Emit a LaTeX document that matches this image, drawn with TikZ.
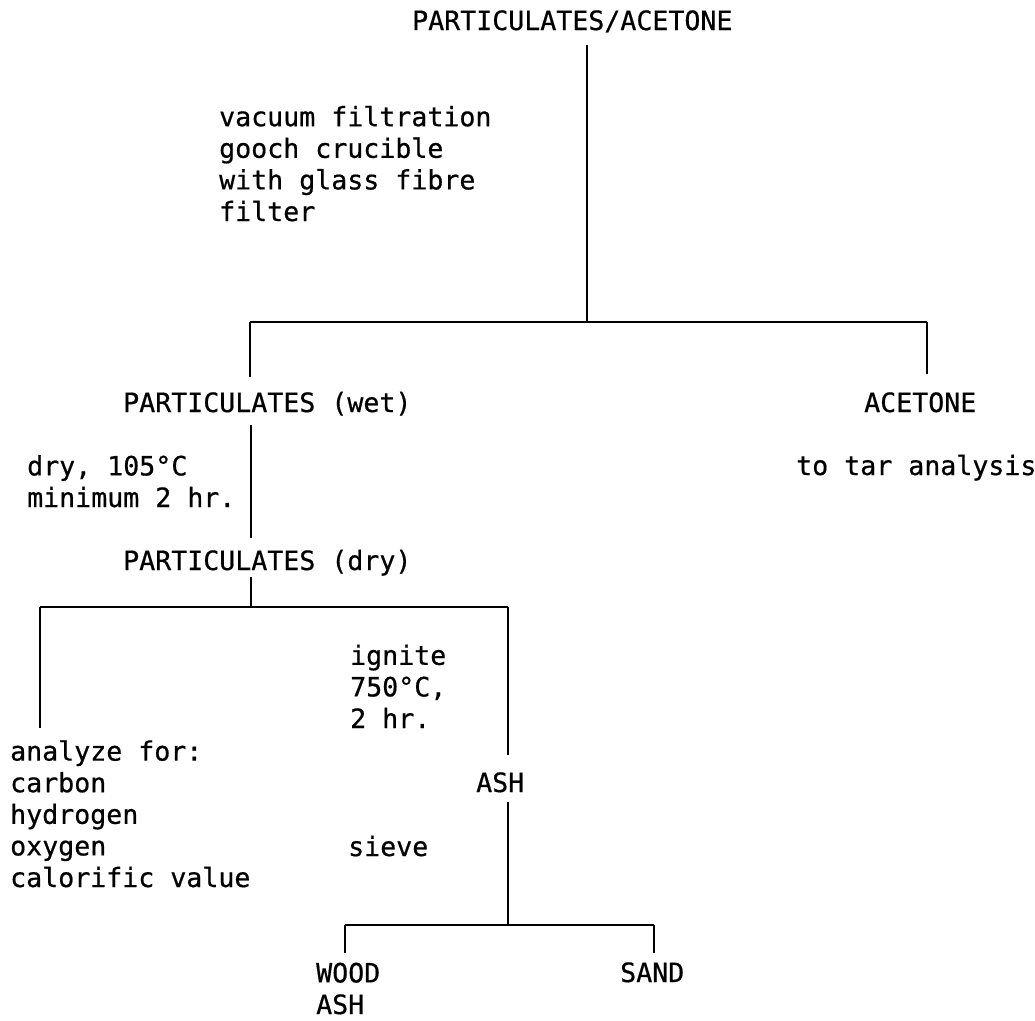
\documentclass[tikz,border=0pt]{standalone}
\usepackage{fontspec}
\setmonofont[FakeBold=0.6]{DejaVu Sans Mono}
\begin{document}
\begin{tikzpicture}[x=1pt,y=-1pt,
  lbl/.style={font=\fontsize{26.6}{31.6}\selectfont\ttfamily, inner sep=0pt, anchor=base west, align=left},
  conn/.style={line width=1.8pt},
  bar/.style={line width=2.6pt}]
\useasboundingbox[fill=white] (0,0) rectangle (1035,1020);

% texts (anchor = baseline of the last line)
\node[lbl] (pa)  at (412,30)  {PARTICULATES/ACETONE};
\node[lbl] (vf)  at (219,221) {vacuum filtration\\gooch crucible\\with glass fibre\\filter};
\node[lbl] (pw)  at (123,412) {PARTICULATES (wet)};
\node[lbl] (ac)  at (864,412) {ACETONE};
\node[lbl] (dry) at (27,507)  {dry, 105°C\\minimum 2 hr.};
\node[lbl] (tar) at (796,475) {to tar analysis};
\node[lbl] (pd)  at (123,570) {PARTICULATES (dry)};
\node[lbl] (ig)  at (350,728) {ignite\\750°C,\\2 hr.};
\node[lbl] (an)  at (10,887)  {analyze for:\\carbon\\hydrogen\\oxygen\\calorific value};
\node[lbl] (ash) at (476,792) {ASH};
\node[lbl] (sv)  at (348,856) {sieve};
\node[lbl] (wa)  at (316,1014) {WOOD\\ASH};
\node[lbl] (sd)  at (620,982) {SAND};

% connector points
\coordinate (a0) at (587,45);  \coordinate (a1) at (587,322);
\coordinate (l0) at (250,322); \coordinate (l1) at (250,377);
\coordinate (r0) at (927,322); \coordinate (r1) at (927,374);
\coordinate (b0) at (251,425); \coordinate (b1) at (251,538);
\coordinate (c0) at (251,577); \coordinate (c1) at (251,607);
\coordinate (d0) at (40,607);  \coordinate (d1) at (40,728);
\coordinate (e0) at (508,607); \coordinate (e1) at (508,755);
\coordinate (f0) at (508,802); \coordinate (f1) at (508,925);
\coordinate (g0) at (345,925); \coordinate (g1) at (345,953);
\coordinate (h0) at (654,925); \coordinate (h1) at (654,953);

% connectors
\draw[conn] (a0) -- (a1);
\draw[bar]  (l0) -- (r0);
\draw[conn] (l0) -- (l1);
\draw[conn] (r0) -- (r1);
\draw[conn] (b0) -- (b1);
\draw[conn] (c0) -- (c1);
\draw[bar]  (d0) -- (e0);
\draw[conn] (d0) -- (d1);
\draw[conn] (e0) -- (e1);
\draw[conn] (f0) -- (f1);
\draw[bar]  (g0) -- (h0);
\draw[conn] (g0) -- (g1);
\draw[conn] (h0) -- (h1);
\end{tikzpicture}
\end{document}
